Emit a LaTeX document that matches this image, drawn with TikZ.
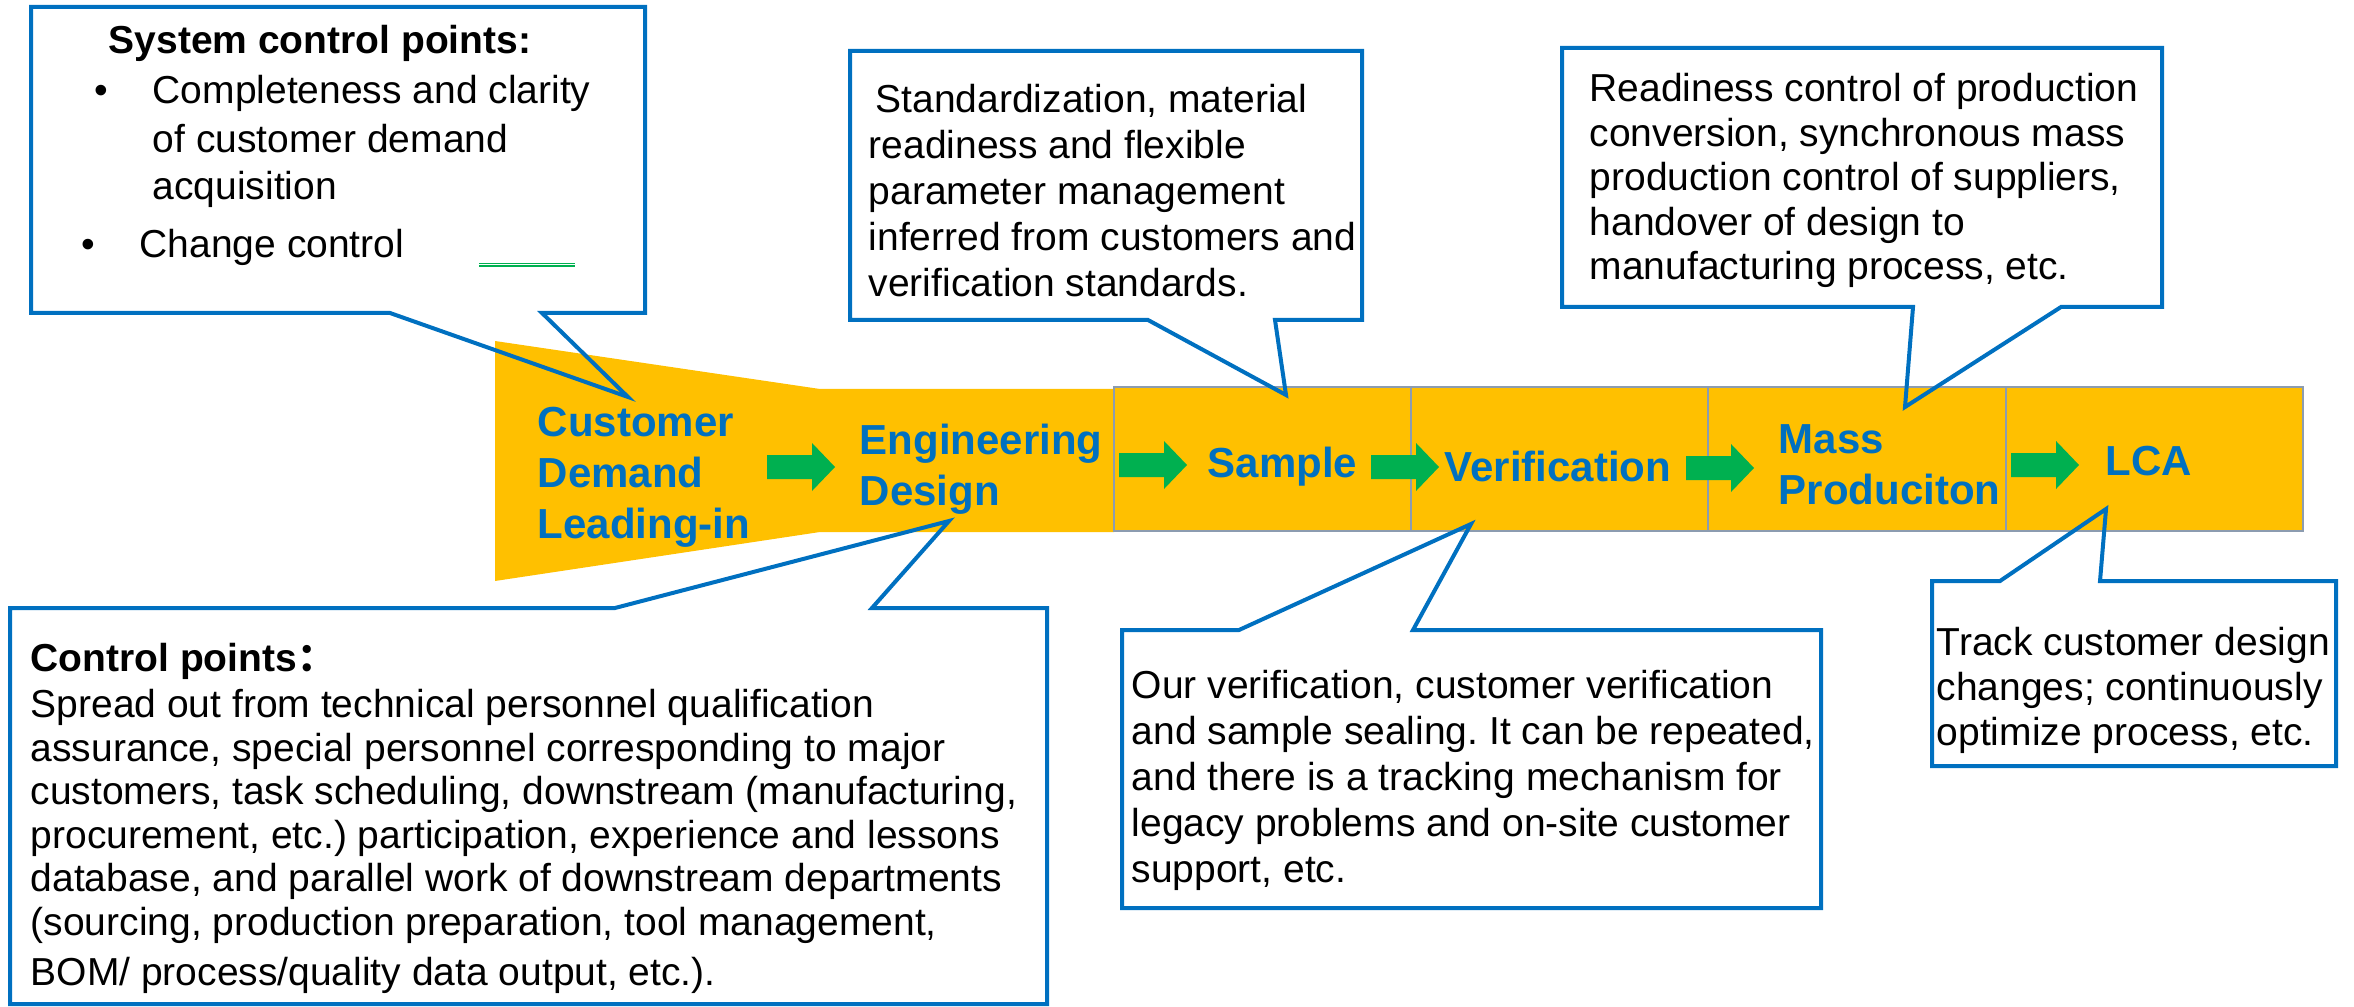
\documentclass[tikz,border=0pt]{standalone}
\usepackage{fontspec}
\setmainfont{Liberation Sans}
\newfontfamily\cjk{Noto Sans CJK SC}
\usetikzlibrary{arrows.meta}
\definecolor{bandyellow}{HTML}{FFC000}
\definecolor{flowgreen}{HTML}{00B050}
\definecolor{noteblue}{HTML}{0070C0}
\definecolor{bandgray}{HTML}{8C9CB0}
\frenchspacing

\begin{document}
\begin{tikzpicture}[x=0.1mm, y=-0.1mm, line join=miter,
	stage/.style={anchor=base west, inner sep=0pt, align=left, text=noteblue,
		font=\fontsize{4.2mm}{5.1mm}\selectfont\bfseries},
	note/.style={anchor=base west, inner sep=0pt, align=left,
		font=\fontsize{3.9mm}{4.6mm}\selectfont},
	callout/.style={draw=noteblue, line width=0.4mm}]
\useasboundingbox (0,0) rectangle (2354,1007);
%========================
% Band: funnel + stage cells
%========================
\fill[bandyellow] (495,341) -- (820,389) -- (1114,389) -- (1114,532)
	-- (820,532) -- (495,581) -- cycle;
\foreach \cx/\cw in {1114/297, 1411/297, 1708/298, 2006/297}
	\draw[bandgray, fill=bandyellow, line width=0.15mm] (\cx,387) rectangle ++(\cw,144);

% stage labels (placed at the baseline of the last line)
\node[stage] (cust) at (537,538) {Customer\\Demand\\Leading-in};
\node[stage] (eng) at (859,505) {Engineering\\Design};
\node[stage] (sample) at (1207,477) {Sample};
\node[stage] (verif) at (1444,481) {Verification};
\node[stage] (mass) at (1778,504) {Mass\\Produciton};
\node[stage] (lca) at (2105,475) {LCA};

% green block arrows between stages
\foreach \ax/\ay in {767/467, 1119/465, 1371/467, 1686/468, 2011/465}
	\fill[flowgreen] (\ax,\ay-12) -- ++(45,0) -- ++(0,-12) -- ++(23,24)
		-- ++(-23,24) -- ++(0,-12) -- ++(-45,0) -- cycle;

%========================
% Callouts above the band
%========================
\coordinate (tip-cust) at (628,397);
\coordinate (tip-sample) at (1286,395);
\coordinate (tip-mass) at (1905,407);
\draw[callout] (31,7) -- (645,7) -- (645,313) -- (542,313) -- (tip-cust)
	-- (390,313) -- (31,313) -- cycle;
\node[note, font=\fontsize{3.9mm}{4.8mm}\selectfont] (sysnote) at (81,258) {%
	\hspace*{2.7mm}\textbf{System control points:}\\[0.2mm]
	\hspace*{1.3mm}\makebox[5.8mm][l]{•}Completeness and clarity\\
	\hspace*{7.1mm}of customer demand\\
	\hspace*{7.1mm}acquisition\\[1mm]
	\makebox[5.8mm][l]{•}Change control};
\draw[flowgreen, double=white, double distance=0.1mm, line width=0.12mm] (479,265) -- (575,265);

\draw[callout] (850,51) -- (1362,51) -- (1362,320) -- (1275,320) -- (tip-sample)
	-- (1148,320) -- (850,320) -- cycle;
\node[note, font=\fontsize{3.9mm}{4.62mm}\selectfont] (stdnote) at (868,297) {%
	\hspace*{0.7mm}Standardization, material\\
	readiness and flexible\\
	parameter management\\
	inferred from customers and\\
	verification standards.};

\draw[callout] (1562,48) -- (2162,48) -- (2162,307) -- (2061,307) -- (tip-mass)
	-- (1913,307) -- (1562,307) -- cycle;
\node[note, font=\fontsize{3.9mm}{4.45mm}\selectfont] (massnote) at (1589,280) {%
	Readiness control of production\\
	conversion, synchronous mass\\
	production control of suppliers,\\
	handover of design to\\
	manufacturing process, etc.};

%========================
% Callouts below the band
%========================
\coordinate (tip-eng) at (949,521);
\coordinate (tip-verif) at (1471,524);
\coordinate (tip-lca) at (2106,509);
\draw[callout] (10,608) -- (615,608) -- (tip-eng) -- (872,608) -- (1047,608)
	-- (1047,1004) -- (10,1004) -- cycle;
\node[note, font=\fontsize{3.9mm}{4.35mm}\selectfont] (engnote) at (30,985) {%
	\textbf{Control points{\cjk ：}}\\[0.25mm]
	Spread out from technical personnel qualification\\
	assurance, special personnel corresponding to major\\
	customers, task scheduling, downstream (manufacturing,\\
	procurement, etc.) participation, experience and lessons\\
	database, and parallel work of downstream departments\\
	(sourcing, production preparation, tool management,\\[0.65mm]
	BOM/ process/quality data output, etc.).};

\draw[callout] (1122,630) -- (1239,630) -- (tip-verif) -- (1413,630) -- (1821,630)
	-- (1821,908) -- (1122,908) -- cycle;
\node[note] (verifnote) at (1131,882) {%
	Our verification, customer verification\\
	and sample sealing. It can be repeated,\\
	and there is a tracking mechanism for\\
	legacy problems and on-site customer\\
	support, etc.};

\draw[callout] (1932,581) -- (2000,581) -- (tip-lca) -- (2100,581) -- (2336,581)
	-- (2336,766) -- (1932,766) -- cycle;
\node[note, font=\fontsize{3.9mm}{4.5mm}\selectfont] (lcanote) at (1936,745) {%
	Track customer design\\
	changes; continuously\\
	optimize process, etc.};
\end{tikzpicture}
\end{document}
